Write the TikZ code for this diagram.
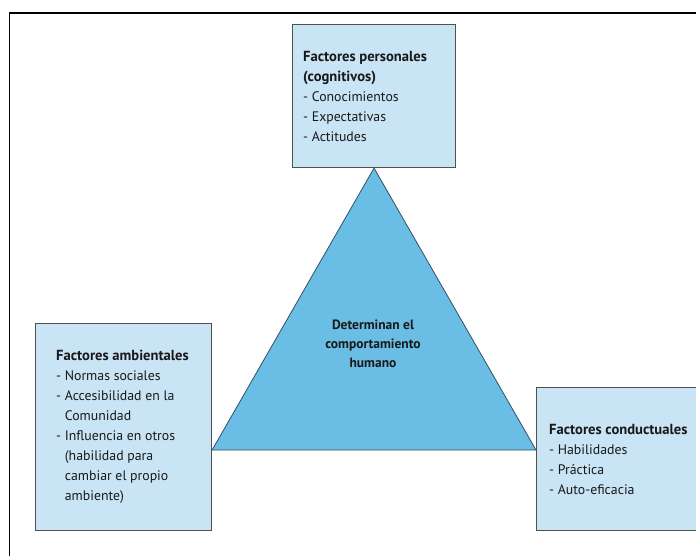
\documentclass[tikz,border=0pt]{standalone}
\usepackage{fontspec}
\setmainfont{PT Sans}
\definecolor{boxfill}{RGB}{200,228,245}
\definecolor{trifill}{RGB}{106,189,229}
\definecolor{boxline}{RGB}{80,80,80}
\definecolor{triline}{RGB}{50,80,100}
\tikzset{
  factorbox/.style={draw=boxline, line width=1.1pt, fill=boxfill, inner sep=0pt, anchor=north west},
  boxtext/.style={anchor=west, align=left, inner sep=0pt, font=\fontsize{13.8}{20}\selectfont, text=black!90},
  tritext/.style={align=center, inner sep=0pt, font=\bfseries\fontsize{13.5}{19}\selectfont, text=black!90},
  frameline/.style={line width=1.8pt, black},
  triangle/.style={draw=triline, line width=0.8pt, fill=trifill}
}
\newcommand{\ind}{\hphantom{- }}
\newcommand{\ttl}[1]{{\fontsize{14.6}{20}\selectfont\bfseries #1}}
\begin{document}
\begin{tikzpicture}[x=1pt,y=-1pt]
\useasboundingbox (0,0) rectangle (696,556);
\clip (0,0) rectangle (696,556);
\fill[white] (0,0) rectangle (696,556);
% frame
\coordinate (fbl) at (9.5,560);
\coordinate (fc) at (9.5,13);
\coordinate (ftr) at (700,13);
\draw[frameline] (fbl) -- (fc) -- (ftr);
% boxes
\node[factorbox, minimum width=163pt, minimum height=143pt] (top) at (292,24) {};
\node[factorbox, minimum width=176pt, minimum height=207pt] (left) at (35,323) {};
\node[factorbox, minimum width=170pt, minimum height=143pt] (right) at (536,387) {};
% triangle
\coordinate (apex) at (top.south);
\coordinate (bl) at (left.east |- 0,450);
\coordinate (br) at (right.west |- 0,450);
\draw[triangle] (apex) -- (br) -- (bl) -- cycle;
\node[tritext] (tlabel) at (373,344) {Determinan el\\comportamiento\\humano};
% texts
\node[boxtext] (ttop) at ([xshift=11pt]top.west) {\ttl{Factores personales}\\\ttl{(cognitivos)}\\- Conocimientos\\- Expectativas\\- Actitudes};
\node[boxtext] (tleft) at ([xshift=21pt]left.west) {\ttl{Factores ambientales}\\- Normas sociales\\- Accesibilidad en la\\\ind Comunidad\\- Influencia en otros\\\ind (habilidad para\\\ind cambiar el propio\\\ind ambiente)};
\node[boxtext] (tright) at ([xshift=13pt]right.west) {\ttl{Factores conductuales}\\- Habilidades\\- Práctica\\- Auto-eficacia};
\end{tikzpicture}
\end{document}
